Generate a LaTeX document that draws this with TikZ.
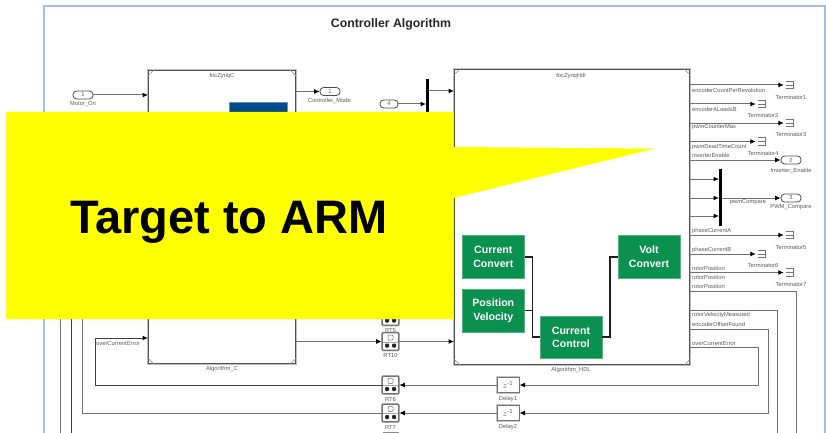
\documentclass[tikz,border=0pt]{standalone}
\usepackage{fontspec}
\setmainfont{Liberation Sans}
\usetikzlibrary{arrows.meta}
\definecolor{wirec}{HTML}{707070}
\definecolor{txtc}{HTML}{5A5A5A}
\definecolor{blockc}{HTML}{505050}
\definecolor{frameblue}{HTML}{9DBFE8}
\definecolor{greenbox}{HTML}{0A9150}
\definecolor{navybox}{HTML}{004B87}
\definecolor{callout}{HTML}{FFFF00}
\tikzset{
  x=1pt,y=-1pt,
  wire/.style={draw=wirec,line width=1pt},
  arrowwire/.style={wire,-{Latex[length=5.5pt,width=5pt,black]}},
  lbl/.style={text=txtc,font=\fontsize{5.8}{7}\selectfont,inner sep=0pt},
  lblw/.style={lbl,anchor=west},
  block/.style={draw=blockc,line width=1.2pt,fill=white,inner sep=0pt,anchor=north west,
    preaction={draw=black!25,line width=2.8pt}},
  greenb/.style={fill=greenbox,draw=greenbox!70!white,line width=.4pt,text=white,align=center,
    minimum width=62pt,minimum height=42.5pt,inner sep=0pt,
    font=\fontsize{10.6}{13.6}\selectfont\bfseries},
  glink/.style={draw=black!88,line width=1.9pt},
  port/.style={draw=black!70,line width=.8pt,fill=white,rounded corners=3.6pt,minimum width=20pt,minimum height=8pt,
    inner sep=0pt,text=txtc,font=\fontsize{5.8}{6}\selectfont},
  termb/.style={minimum width=9pt,minimum height=9pt,inner sep=0pt,
    path picture={\draw[draw=black!55,line width=.9pt]
      ([shift={(0,.8)}]path picture bounding box.north west)--([shift={(-.8,.8)}]path picture bounding box.north east)
      --([shift={(-.8,-.8)}]path picture bounding box.south east)--([shift={(0,-.8)}]path picture bounding box.south west)
      (path picture bounding box.west)--([shift={(-.8,0)}]path picture bounding box.east);}},
  barb/.style={fill=black,inner sep=0pt,minimum width=3.6pt},
  ratebox/.style={draw=black!55,line width=1.2pt,fill=white,rounded corners=1pt,minimum width=16.5pt,minimum height=17.5pt,inner sep=0pt,
    preaction={draw=black!25,line width=2.4pt},
    path picture={
      \draw[black!60,line width=.5pt] ([shift={(-2.5,-6.5)}]path picture bounding box.center) rectangle ([shift={(2.5,-1.5)}]path picture bounding box.center);
      \draw[black!35,line width=.4pt] ([shift={(-8,0.6)}]path picture bounding box.center) -- ([shift={(8,0.6)}]path picture bounding box.center);
      \fill[black!85] ([shift={(-5.5,2)}]path picture bounding box.center) rectangle ([shift={(-1.5,6)}]path picture bounding box.center);
      \fill[black!85] ([shift={(1.5,2)}]path picture bounding box.center) rectangle ([shift={(5.5,6)}]path picture bounding box.center);
    }},
  delayb/.style={draw=black!55,line width=1pt,fill=white,minimum width=22pt,minimum height=15.5pt,inner sep=0pt,text=txtc,
    preaction={draw=black!22,line width=2.2pt},font=\fontsize{9}{10}\selectfont},
  corner/.style={draw=black!40,line width=.7pt},
}
\newcommand{\zinv}{$z^{\mbox{\fontsize{6}{6}\selectfont -1}}$}
\begin{document}
\begin{tikzpicture}
\useasboundingbox (0,0) rectangle (826,433);
\fill[white] (0,0) rectangle (826,433);
% frame
\draw[frameblue,line width=1.1pt] (44,433)--(44,6)--(825,6)--(825,433);
\node[font=\fontsize{12.3}{14}\selectfont\bfseries,text=black!85,inner sep=0pt] (title) at (391,24) {Controller Algorithm};

% long left wires
\coordinate (lw1t) at (60.5,300); \coordinate (lw1b) at (60.5,433);
\coordinate (lw2t) at (71.5,300); \coordinate (lw2b) at (71.5,433);
\draw[wire] (lw1t)--(lw1b);
\draw[draw=black!75,line width=.9pt] (lw2t)--(lw2b);

% big blocks
\node[block,minimum width=147pt,minimum height=293pt] (algc) at (148,70) {};
\node[block,minimum width=235pt,minimum height=295pt] (alghdl) at (454,69) {};
\foreach \b in {algc,alghdl}{
  \draw[corner] ([shift={(0,6)}]\b.north west)--([shift={(6,0)}]\b.north west);
  \draw[corner] ([shift={(0,6)}]\b.north east)--([shift={(-6,0)}]\b.north east);
  \draw[corner] ([shift={(0,-6)}]\b.south west)--([shift={(6,0)}]\b.south west);
  \draw[corner] ([shift={(0,-6)}]\b.south east)--([shift={(-6,0)}]\b.south east);
}
\node[lbl] (algcname) at (222,76.5) {focZynqC};
\node[lbl] (algcfoot) at (222,368.5) {Algorithm\_C};
\node[lbl] (hdlname) at (571,76) {focZynqHdl};
\node[lbl] (hdlfoot) at (571,369.5) {Algorithm\_HDL};
\node[fill=navybox,draw=navybox!60!white,line width=.4pt,minimum width=58pt,minimum height=30pt,inner sep=0pt,anchor=north west] (navy) at (229,102.5) {};

% ports at top left
\node[port] (pm) at (83,95) {1};
\node[lbl] (pml) at (83,104.5) {Motor\_On};
\coordinate (algcin1) at (148,95);
\draw[arrowwire] (pm.east)--(algcin1);
\coordinate (algcout1) at (295,91.5);
\node[port] (pc) at (330,91.5) {1};
\node[lbl] (pcl) at (329.5,101) {Controller\_Mode};
\draw[arrowwire] (algcout1)--(pc.west);
\node[port,minimum width=18pt] (p4) at (389,104) {4};
\node[barb,minimum height=46pt] (mux1) at (427.5,102) {};
\coordinate (mux1in) at (426,104);
\coordinate (mux1out) at (429,91);
\coordinate (hdlin1) at (454,91);
\draw[arrowwire] (p4.east)--(mux1in);
\draw[arrowwire] (mux1out)--(hdlin1);

% right side outputs
\foreach \n/\yy in {o1/85,o2/104,o3/123,o4/141.5,o5/160,o6/179,o7/198,o8/216,o9/235,o10/254,o11/272.5,o12/291,o13/310.5,o14/329,o15/347.5}{\coordinate (\n) at (689,\yy);}
\node[termb] (t1) at (790,85) {};
\node[termb] (t2) at (762,104) {};
\node[termb] (t3) at (790,123) {};
\node[termb] (t4) at (762,141.5) {};
\node[termb] (t5) at (790,235) {};
\node[termb] (t6) at (762,254) {};
\node[termb] (t7) at (790,272.5) {};
\foreach \a/\b in {o1/t1,o2/t2,o3/t3,o4/t4,o9/t5,o10/t6,o11/t7}{\draw[arrowwire,shorten >=1.5pt] (\a)--(\b.west);}
\node[lbl] (tl1) at (791,97) {Terminator1};
\node[lbl] (tl2) at (763,115.5) {Terminator2};
\node[lbl] (tl3) at (791,134) {Terminator3};
\node[lbl] (tl4) at (763,153.5) {Terminator4};
\node[lbl] (tl5) at (791,247) {Terminator5};
\node[lbl] (tl6) at (763,265.5) {Terminator6};
\node[lbl] (tl7) at (791,284.5) {Terminator7};
\node[lblw] (wl1) at (692,90) {encoderCountPerRevolution};
\node[lblw] (wl2) at (692,109) {encoderALeadsB};
\node[lblw] (wl3) at (692,127.5) {pwmCounterMax};
\node[lblw] (wl4) at (692,146.5) {pwmDeadTimeCount};
\node[lblw] (wl5) at (692,155.5) {inverterEnable};
\node[lblw] (wl9) at (692,231) {phaseCurrentA};
\node[lblw] (wl10) at (692,249.5) {phaseCurrentB};
\node[lblw] (wl11) at (692,268) {rotorPosition};
\node[lblw] (wl11b) at (692,277) {rotorPosition};
\node[lblw] (wl12) at (692,286.5) {rotorPosition};
\node[lblw] (wl13) at (692,315) {rotorVelocityMeasured};
\node[lblw] (wl14) at (692,324) {encoderOffsetFound};
\node[lblw] (wl15) at (692,343) {overCurrentError};
\node[port] (p2) at (791,160) {2};
\node[lbl] (p2l) at (791,170.5) {Inverter\_Enable};
\draw[arrowwire] (o5)--(p2.west);
\node[barb,minimum height=57pt] (mux2) at (720.5,197.5) {};
\foreach \i/\yy in {1/179,2/198,3/216}{\coordinate (m2i\i) at (719,\yy);}
\foreach \a/\b in {o6/m2i1,o7/m2i2,o8/m2i3}{\draw[arrowwire] (\a)--(\b);}
\coordinate (m2o) at (722,198);
\node[port] (p3) at (791,198) {3};
\node[lbl] (p3l) at (791,207.5) {PWM\_Compare};
\node[lbl] (m2ol) at (748,202.5) {pwmCompare};
\draw[arrowwire] (m2o)--(p3.west);

% green boxes
\node[greenb] (cconv) at (493.3,256.7) {Current\\Convert};
\node[greenb] (posv) at (493.3,310.5) {Position\\Velocity};
\node[greenb] (cctl) at (571,337.3) {Current\\Control};
\node[greenb] (vconv) at (649,256.7) {Volt\\Convert};
\coordinate (jl) at (532.5,310.5);
\coordinate (jr) at (610,337.3);
\draw[glink] (cconv.east)-|(jl)|-(cctl.west);
\draw[glink] (posv.east)--(jl);
\draw[glink] (cctl.east)--(jr)|-(vconv.west);

% delays and RT
\node[delayb] (d1) at (508,385) {\zinv};
\node[delayb] (d2) at (508,413) {\zinv};
\node[lbl] (d1l) at (508,398.5) {Delay1};
\node[lbl] (d2l) at (508,426.5) {Delay2};
\node[ratebox] (rt9) at (390.5,316.5) {};
\node[lbl] (rt9l) at (390.5,330) {RT9};
\node[ratebox] (rt10) at (390.5,341.5) {};
\node[lbl] (rt10l) at (390.5,355) {RT10};
\node[ratebox] (rt6) at (390.5,385) {};
\node[lbl] (rt6l) at (390.5,399) {RT6};
\node[ratebox] (rt7) at (390.5,413) {};
\node[lbl] (rt7l) at (390.5,427) {RT7};
\draw[black!45,line width=1pt] (382.5,432.6)--(398.5,432.6);
\coordinate (algcout2) at (295,341.5);
\coordinate (hdlin2) at (454,341.5);
\draw[arrowwire] (algcout2)--(rt10.west);
\draw[arrowwire] (rt10.east)--(hdlin2);
% feedback
\coordinate (f1a) at (758.5,347.5); \coordinate (f1b) at (758.5,385);
\draw[arrowwire] (o15)--(f1a)--(f1b)--(d1.east);
\coordinate (f2a) at (768,329); \coordinate (f2b) at (768,413);
\draw[arrowwire] (o14)--(f2a)--(f2b)--(d2.east);
\coordinate (f3a) at (777,310.5); \coordinate (f3b) at (777,433);
\draw[wire] (o13)--(f3a)--(f3b);
\coordinate (f4a) at (796,291); \coordinate (f4b) at (796,433);
\draw[wire] (o12)--(f4a)--(f4b);
\draw[arrowwire] (d1.west)--(rt6.east);
\draw[arrowwire] (d2.west)--(rt7.east);
\coordinate (b1a) at (95,385); \coordinate (b1b) at (95,338); \coordinate (algcin2) at (148,338);
\draw[arrowwire,draw=black!75] (rt6.west)--(b1a)--(b1b)--(algcin2);
\node[lblw] (b1l) at (96,343) {overCurrentError};
\coordinate (b2a) at (82,413); \coordinate (b2b) at (82,300);
\draw[wire] (rt7.west)--(b2a)--(b2b);

% yellow callout
\fill[callout] (6,112)--(453.5,112)--(453.5,147)--(655,148.5)--(453.5,198)--(453.5,319)--(6,319)--cycle;
\node[font=\fontsize{47}{50}\selectfont\bfseries,text=black,inner sep=0pt,anchor=base] (arm) at (229,233.5) {Target to ARM};
\end{tikzpicture}
\end{document}
